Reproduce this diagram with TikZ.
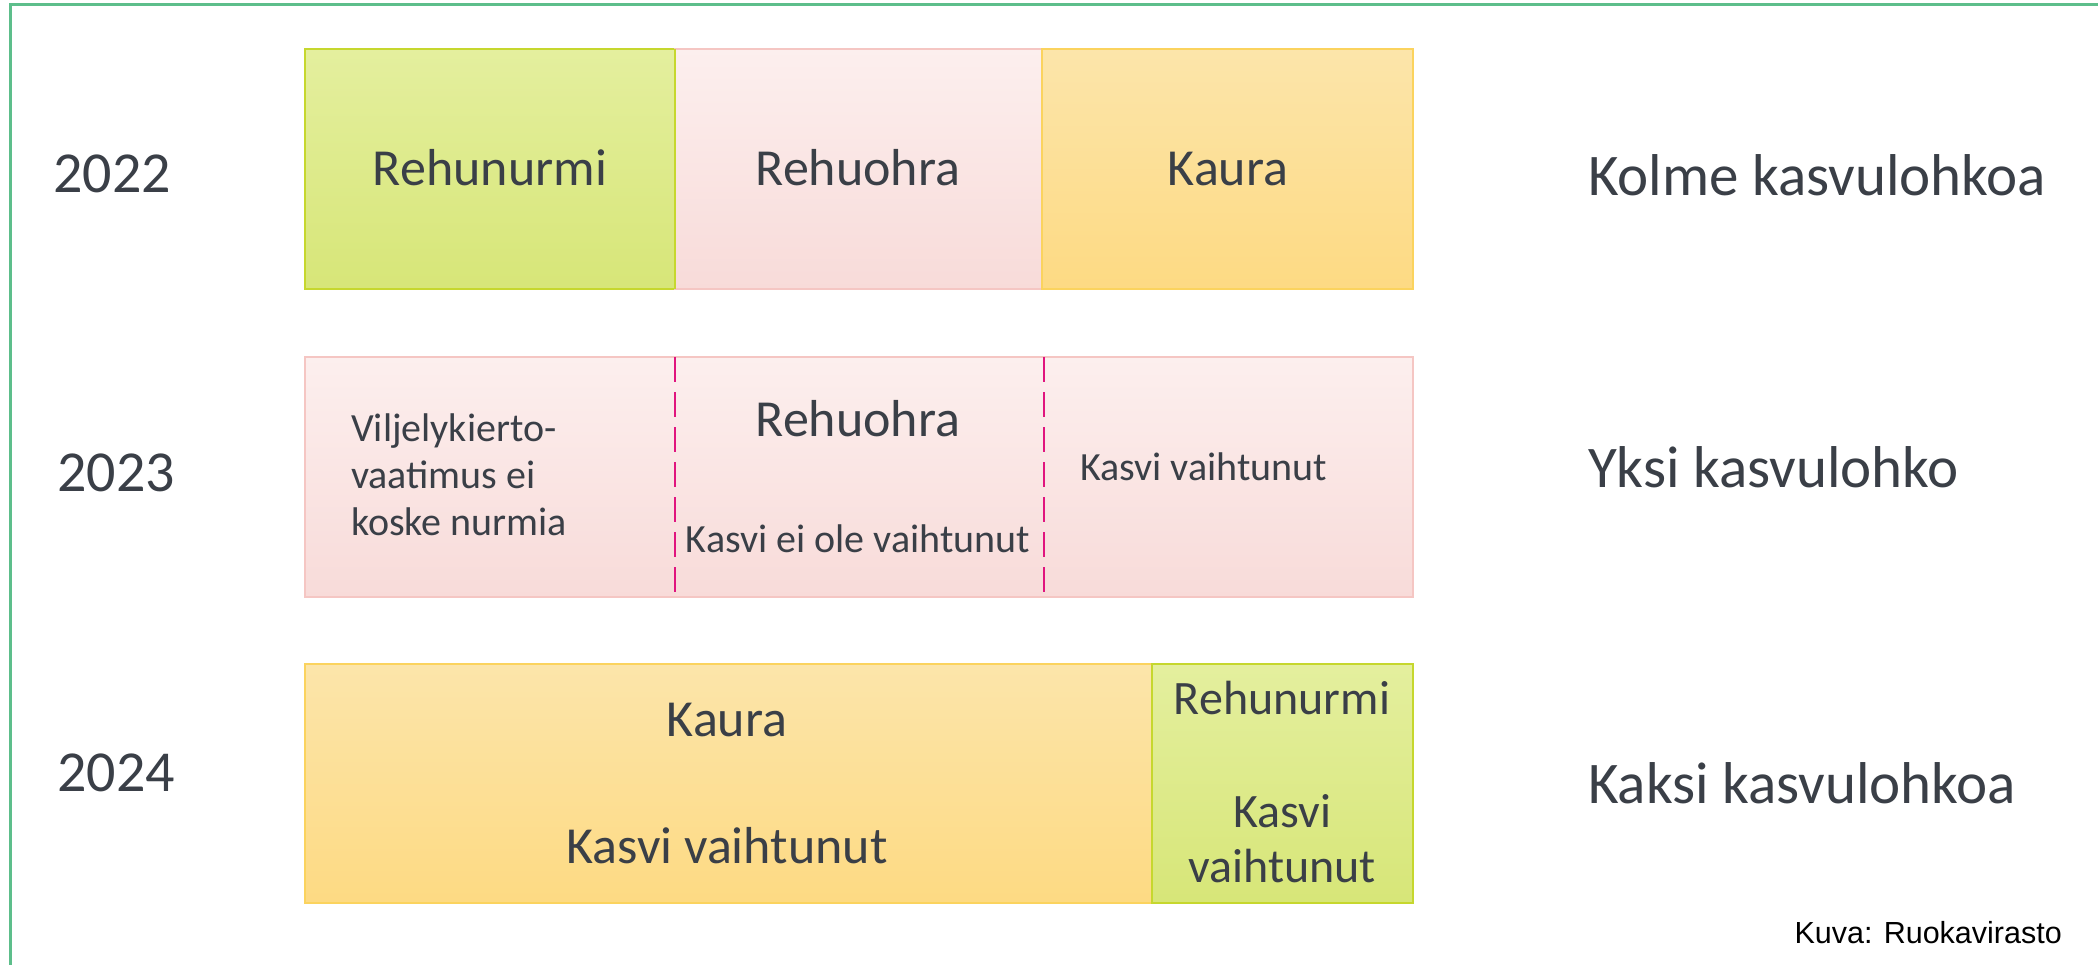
\documentclass[tikz,border=0pt]{standalone}
\usepackage{fontspec}
\setmainfont{Carlito}
\newfontfamily\kuvafont{Liberation Sans}
\definecolor{frameG}{HTML}{5DBE8B}
\definecolor{txt}{HTML}{3A3F47}
\definecolor{gTop}{HTML}{E4EF9E}
\definecolor{gBot}{HTML}{D7E678}
\definecolor{gLine}{HTML}{C6D72E}
\definecolor{pTop}{HTML}{FCEFEE}
\definecolor{pBot}{HTML}{F8DBD9}
\definecolor{pLine}{HTML}{F5C6C3}
\definecolor{oTop}{HTML}{FCE5AA}
\definecolor{oBot}{HTML}{FDDA83}
\definecolor{oLine}{HTML}{FBD35E}
\definecolor{dashC}{HTML}{E0157E}
\tikzset{
  field/.style={anchor=north west, inner sep=0pt, outer sep=0pt, line width=2pt},
  greenf/.style={field, draw=gLine, top color=gTop, bottom color=gBot},
  pinkf/.style={field, draw=pLine, top color=pTop, bottom color=pBot},
  orangef/.style={field, draw=oLine, top color=oTop, bottom color=oBot},
  big/.style={inner sep=0pt, text=txt, font=\fontsize{52}{62}\selectfont, anchor=base},
  mid/.style={inner sep=0pt, text=txt, font=\fontsize{48}{58}\selectfont, anchor=base},
  small/.style={inner sep=0pt, text=txt, font=\fontsize{40}{48}\selectfont, anchor=base},
  year/.style={inner sep=0pt, text=txt, font=\fontsize{58}{70}\selectfont, anchor=base west},
  side/.style={inner sep=0pt, text=txt, font=\fontsize{59}{70}\selectfont, anchor=base west},
  divider/.style={draw=dashC, line width=2pt, dash pattern=on 25pt off 10pt},
}
\begin{document}
\begin{tikzpicture}[x=1pt,y=-1pt]
\useasboundingbox (0,0) rectangle (2098,965);
\fill[white] (0,0) rectangle (2098,965);
\draw[frameG, line width=3pt] (2098,4.5) -- (10,4.5) -- (10,965);

% row 2022
\node[greenf, minimum width=370pt, minimum height=240pt] (a1) at (305,49) {};
\node[pinkf, minimum width=367pt, minimum height=240pt] (a2) at (675,49) {};
\node[orangef, minimum width=371pt, minimum height=240pt] (a3) at (1042,49) {};
\draw[gLine, line width=2pt] (a1.north east) -- (a1.south east);
\node[big] (t11) at (490,186) {Rehunurmi};
\node[big] (t12) at (858,186) {Rehuohra};
\node[big] (t13) at (1228,186) {Kaura};
\node[year] (y1) at (53,193) {2022};
\node[side] (s1) at (1588,196) {Kolme kasvulohkoa};

% row 2023
\node[pinkf, minimum width=1108pt, minimum height=240pt] (b) at (305,357) {};
\coordinate (d1t) at (675,357);
\coordinate (d1b) at (675,597);
\coordinate (d2t) at (1044,357);
\coordinate (d2b) at (1044,597);
\draw[divider] (d1t) -- (d1b);
\draw[divider] (d2t) -- (d2b);
\node[small, anchor=base west] (v1) at (351,441) {Viljelykierto-};
\node[small, anchor=base west] (v2) at (351,488) {vaatimus ei};
\node[small, anchor=base west] (v3) at (351,535) {koske nurmia};
\node[big] (t22) at (858,436) {Rehuohra};
\node[small] (t22b) at (858,552) {Kasvi ei ole vaihtunut};
\node[small, anchor=base west] (t23) at (1080,480) {Kasvi vaihtunut};
\node[year] (y2) at (57,491) {2023};
\node[side] (s2) at (1588,487) {Yksi kasvulohko};

% row 2024
\node[orangef, minimum width=847pt, minimum height=239pt] (c1) at (305,664) {};
\node[greenf, minimum width=261pt, minimum height=239pt] (c2) at (1152,664) {};
\node[big] (t31) at (727,736) {Kaura};
\node[big] (t31b) at (727,863) {Kasvi vaihtunut};
\node[mid] (t32) at (1282,714) {Rehunurmi};
\node[mid] (t32b) at (1282,827) {Kasvi};
\node[mid] (t32c) at (1282,882) {vaihtunut};
\node[year] (y3) at (57,791) {2024};
\node[side] (s3) at (1588,803) {Kaksi kasvulohkoa};

\node[inner sep=0pt, anchor=base east, font=\kuvafont\fontsize{30.5}{36}\selectfont] (kuva) at (2062,943) {Kuva: Ruokavirasto};
\end{tikzpicture}
\end{document}
